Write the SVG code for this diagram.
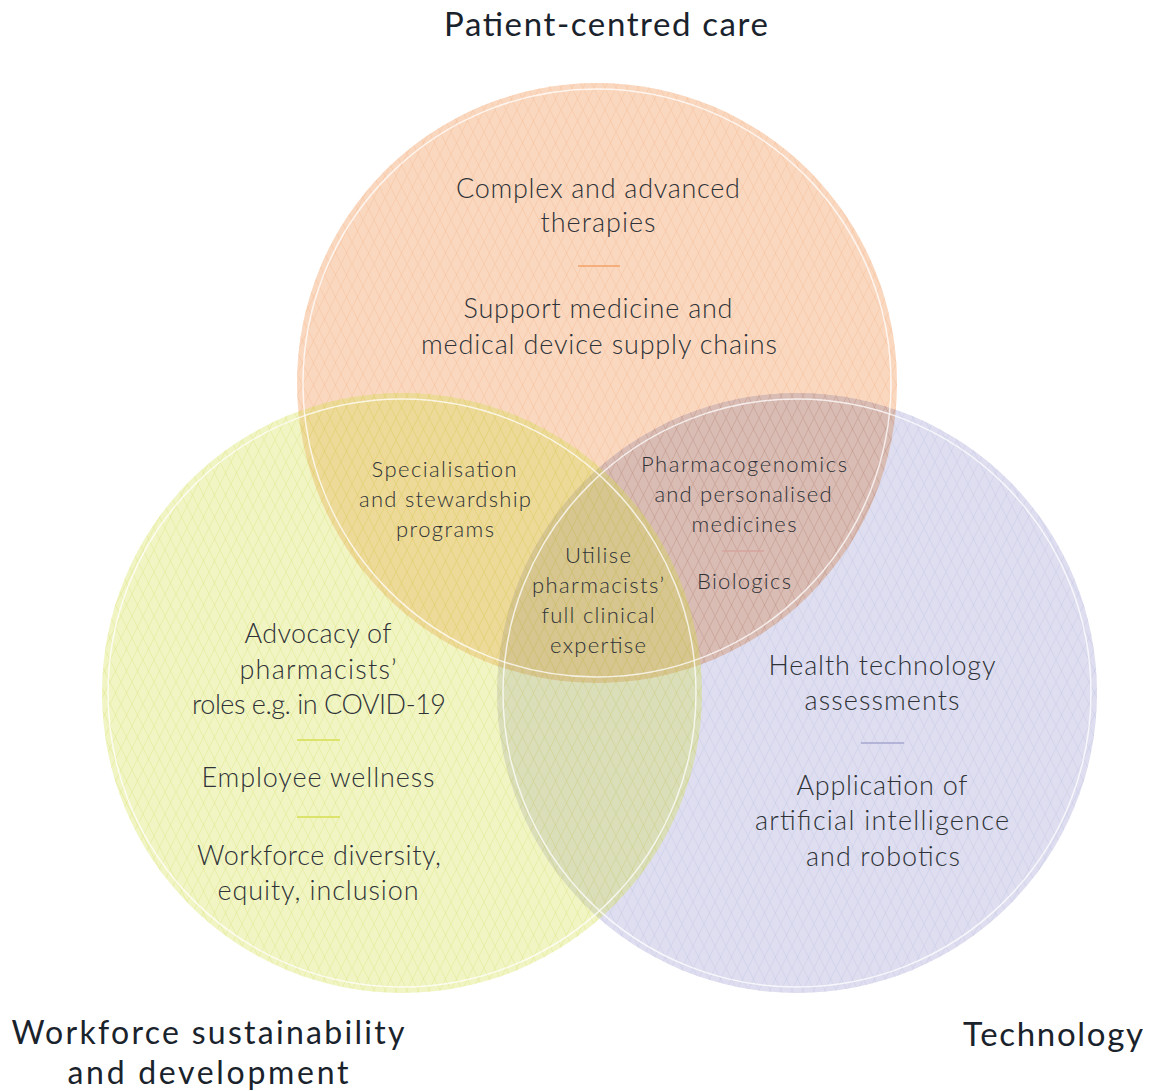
<svg xmlns="http://www.w3.org/2000/svg" width="1152" height="1091" viewBox="0 0 1152 1091">
<style>
.t{font-family:Lato,"Open Sans","Liberation Sans",sans-serif;font-weight:300;fill:#2f3338;text-anchor:middle}
.b{font-size:27px}
.s{font-size:22px}
.h{font-family:Lato,"Open Sans","Liberation Sans",sans-serif;font-weight:400;fill:#1a232c;text-anchor:middle;font-size:33px}
.h2{font-size:32px}
.mul{mix-blend-mode:multiply}
.ring{fill:none;stroke:#fff;stroke-width:1.5;opacity:0.75}
</style>
<defs>
<pattern id="po" width="11" height="22" patternUnits="userSpaceOnUse">
<path d="M0 0L11 22M11 0L0 22" stroke="#f3b98e" stroke-width="0.8" fill="none" opacity="0.55"/>
</pattern>
<pattern id="py" width="11" height="22" patternUnits="userSpaceOnUse">
<path d="M0 0L11 22M11 0L0 22" stroke="#d4dc5a" stroke-width="0.8" fill="none" opacity="0.35"/>
</pattern>
<pattern id="pp" width="11" height="22" patternUnits="userSpaceOnUse">
<path d="M0 0L11 22M11 0L0 22" stroke="#c3c3e0" stroke-width="0.8" fill="none" opacity="0.55"/>
</pattern>
</defs>
<g id="circles" style="isolation:isolate">
<g id="technology">
<circle cx="797" cy="693" r="300" fill="#dedef0"/>
<circle cx="797" cy="693" r="300" fill="url(#pp)"/>
</g>
<g id="patient" class="mul">
<circle cx="597" cy="383" r="300" fill="#fad8c0"/>
<circle cx="597" cy="383" r="300" fill="url(#po)"/>
</g>
<g id="workforce">
<circle cx="402" cy="693" r="300" fill="#d2de40" fill-opacity="0.31"/>
<circle cx="402" cy="693" r="300" fill="url(#py)"/>
</g>
</g>
<g id="rings">
<circle class="ring" cx="597" cy="383" r="294"/>
<circle class="ring" cx="402" cy="693" r="294"/>
<circle class="ring" cx="797" cy="693" r="294"/>
</g>
<g id="separators" stroke-width="1.5">
<line x1="578" y1="266" x2="620" y2="266" stroke="#f2a267"/>
<line x1="722" y1="551" x2="764" y2="551" stroke="#d4a49c"/>
<line x1="297" y1="740" x2="340" y2="740" stroke="#d6de4e"/>
<line x1="297" y1="817" x2="340" y2="817" stroke="#d6de4e"/>
<line x1="861" y1="743" x2="904" y2="743" stroke="#a6a6d0"/>
</g>
<g id="titles">
<text class="h" x="606" y="36" textLength="324" lengthAdjust="spacing">Patient-centred care</text>
<text class="h h2" x="208" y="1044" textLength="393" lengthAdjust="spacing">Workforce sustainability</text>
<text class="h h2" x="208" y="1084" textLength="281" lengthAdjust="spacing">and development</text>
<text class="h" x="1053" y="1046" textLength="180" lengthAdjust="spacing">Technology</text>
</g>
<g id="node-patient">
<text class="t b" x="598" y="198" textLength="284" lengthAdjust="spacing">Complex and advanced</text>
<text class="t b" x="598" y="232" textLength="115" lengthAdjust="spacing">therapies</text>
<text class="t b" x="598" y="318" textLength="269" lengthAdjust="spacing">Support medicine and</text>
<text class="t b" x="599" y="354" textLength="356" lengthAdjust="spacing">medical device supply chains</text>
</g>
<g id="node-specialisation">
<text class="t s" x="444" y="477" textLength="145" lengthAdjust="spacing">Specialisation</text>
<text class="t s" x="445" y="507" textLength="172" lengthAdjust="spacing">and stewardship</text>
<text class="t s" x="445" y="537" textLength="98" lengthAdjust="spacing">programs</text>
</g>
<g id="node-pharmacogenomics">
<text class="t s" x="744" y="472" textLength="206" lengthAdjust="spacing">Pharmacogenomics</text>
<text class="t s" x="743" y="502" textLength="177" lengthAdjust="spacing">and personalised</text>
<text class="t s" x="744" y="532" textLength="105" lengthAdjust="spacing">medicines</text>
<text class="t s" x="744" y="589" textLength="94" lengthAdjust="spacing">Biologics</text>
</g>
<g id="node-centre">
<text class="t s" x="598" y="563" textLength="66" lengthAdjust="spacing">Utilise</text>
<text class="t s" x="598" y="593" textLength="132" lengthAdjust="spacing">pharmacists’</text>
<text class="t s" x="598" y="623" textLength="113" lengthAdjust="spacing">full clinical</text>
<text class="t s" x="598" y="653" textLength="96" lengthAdjust="spacing">expertise</text>
</g>
<g id="node-workforce">
<text class="t b" x="318" y="643" textLength="147" lengthAdjust="spacing">Advocacy of</text>
<text class="t b" x="318" y="679" textLength="157" lengthAdjust="spacing">pharmacists’</text>
<text class="t b" x="319" y="714" textLength="254" lengthAdjust="spacing">roles e.g. in COVID-19</text>
<text class="t b" x="318" y="787" textLength="233" lengthAdjust="spacing">Employee wellness</text>
<text class="t b" x="319" y="865" textLength="244" lengthAdjust="spacing">Workforce diversity,</text>
<text class="t b" x="318" y="900" textLength="201" lengthAdjust="spacing">equity, inclusion</text>
</g>
<g id="node-technology">
<text class="t b" x="882" y="675" textLength="227" lengthAdjust="spacing">Health technology</text>
<text class="t b" x="882" y="710" textLength="155" lengthAdjust="spacing">assessments</text>
<text class="t b" x="882" y="795" textLength="171" lengthAdjust="spacing">Application of</text>
<text class="t b" x="882" y="830" textLength="254" lengthAdjust="spacing">artificial intelligence</text>
<text class="t b" x="883" y="866" textLength="154" lengthAdjust="spacing">and robotics</text>
</g>
</svg>
